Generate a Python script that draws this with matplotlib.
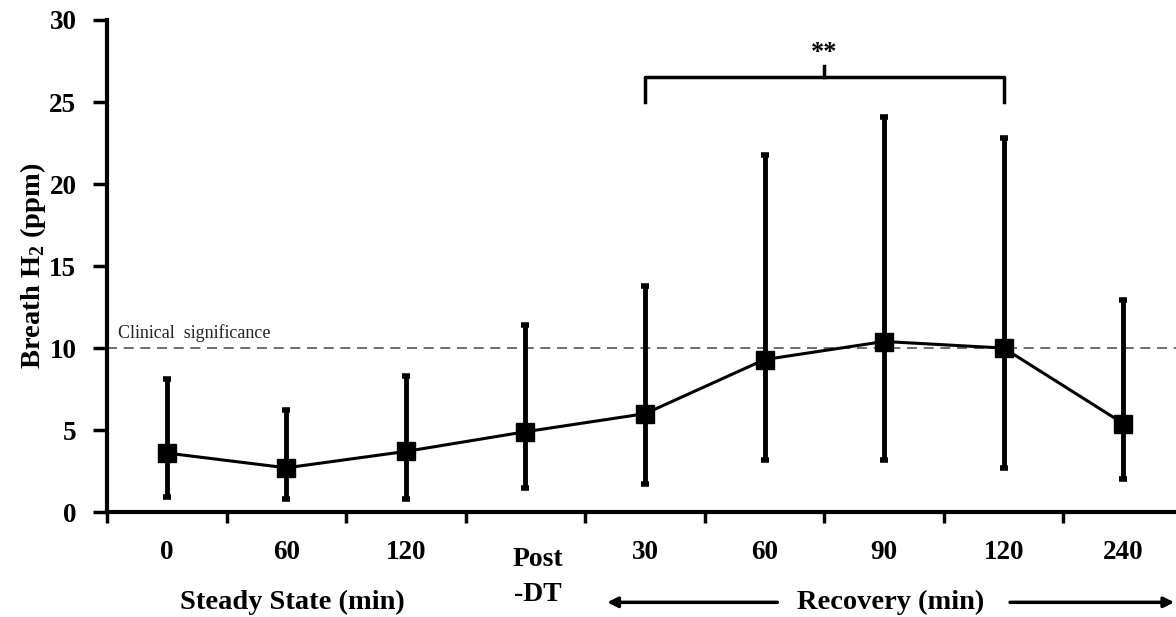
import numpy as np
import matplotlib
matplotlib.use('Agg')
import matplotlib.pyplot as plt
from matplotlib.ticker import FixedLocator

# breath H2 over the protocol
labels = ['0', '60', '120', '', '30', '60', '90', '120', '240']
means = [3.6, 2.7, 3.7, 4.9, 6.0, 9.3, 10.4, 10.0, 5.4]
err_lo = [0.9, 0.8, 0.8, 1.5, 1.7, 3.2, 3.2, 2.7, 2.0]
err_hi = [8.1, 6.2, 8.3, 11.4, 13.8, 21.8, 24.1, 22.8, 12.9]
threshold = 10
sig_pair = [4, 7]

plt.rcParams['font.family'] = ['Liberation Serif', 'DejaVu Serif']
plt.rcParams['mathtext.fontset'] = 'custom'
plt.rcParams['mathtext.rm'] = 'Liberation Serif'
plt.rcParams['mathtext.bf'] = 'Liberation Serif:bold'

x = np.arange(len(means))
m = np.array(means)
yerr = [m - np.array(err_lo), np.array(err_hi) - m]

fig = plt.figure(figsize=(11.76, 6.17), dpi=100)
ax = fig.add_axes([0.091, 0.170, 0.915, 0.7976])

ax.axhline(threshold, color='#555555', lw=1.2, ls=(0, (6, 4)), zorder=1)
ax.text(-0.41, threshold + 0.4, 'Clinical  significance', fontsize=13, color='#222222', va='bottom')

ax.errorbar(x, means, yerr=yerr, fmt='-s', color='black', lw=2.2, ms=12.5,
            elinewidth=3.5, capsize=3, capthick=4, zorder=3)

# significance bracket
b0, b1 = sig_pair
ax.plot([b0, b0, b1, b1], [25.0, 26.5, 26.5, 25.0], color='black', lw=2.5, clip_on=False)
ax.plot([(b0 + b1) / 2] * 2, [26.5, 27.2], color='black', lw=2.5, clip_on=False)
ax.text((b0 + b1) / 2, 27.3, '**', ha='center', va='bottom', fontsize=19, fontweight='bold')

ax.set_xlim(-0.5, 8.5)
ax.set_ylim(0, 30)
ax.set_yticks(range(0, 31, 5))
ax.set_xticks(x)
ax.set_xticklabels(labels, fontsize=19.5, fontweight='bold')
ax.xaxis.set_minor_locator(FixedLocator(np.arange(-0.5, 9, 1)))
ax.tick_params(axis='x', which='major', length=0, pad=20)
ax.tick_params(axis='x', which='minor', length=8, width=2.5, direction='out')
ax.tick_params(axis='y', length=10, width=2.5, direction='out', labelsize=19.5, pad=12)
for t in ax.get_yticklabels():
    t.set_fontweight('bold')

for s in ['top', 'right']:
    ax.spines[s].set_visible(False)
for s in ['left', 'bottom']:
    ax.spines[s].set_linewidth(3)

ax.set_ylabel('Breath H$_\\mathbf{2}$ (ppm)', fontsize=20.5, fontweight='bold', labelpad=1)

# lower annotations
ax.text(3.1, -2.1, 'Post', ha='center', va='top', fontsize=20, fontweight='bold')
ax.text(3.1, -4.25, '-DT', ha='center', va='top', fontsize=20, fontweight='bold')
ax.text(1.05, -5.5, 'Steady State (min)', ha='center', va='center', fontsize=20.5, fontweight='bold')
ax.text(6.05, -5.5, 'Recovery (min)', ha='center', va='center', fontsize=20.5, fontweight='bold')
ax.annotate('', xy=(3.66, -5.5), xytext=(5.13, -5.5),
            arrowprops=dict(arrowstyle='-|>', color='black', lw=2.5, mutation_scale=15), annotation_clip=False)
ax.annotate('', xy=(8.45, -5.5), xytext=(7.03, -5.5),
            arrowprops=dict(arrowstyle='-|>', color='black', lw=2.5, mutation_scale=15), annotation_clip=False)

fig.savefig('out.png', dpi=100)
